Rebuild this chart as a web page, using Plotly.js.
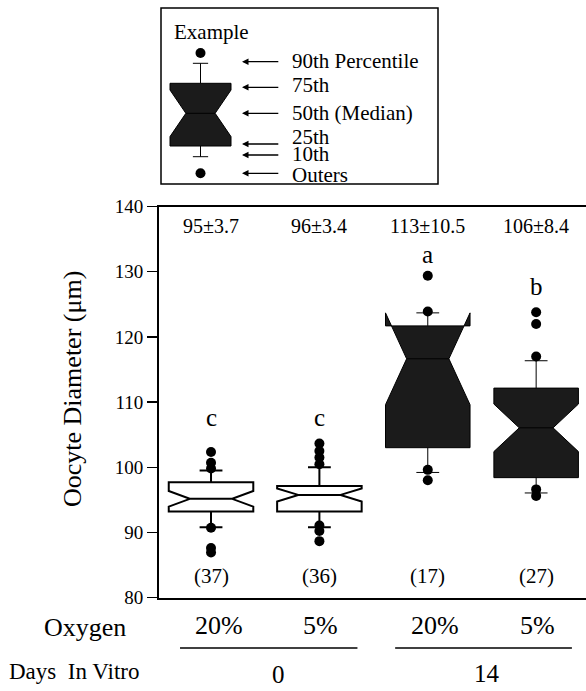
<!DOCTYPE html>
<html>
<head>
<meta charset="utf-8">
<script src="https://cdn.plot.ly/plotly-3.0.1.min.js"></script>
<style>html,body{margin:0;padding:0;background:#fff;}#chart{width:586px;height:691px;}</style>
</head>
<body>
<div id="chart"></div>
<script>
// ---- data ----
const groupX      = [0, 1, 2, 3];
const oxygen      = ['20%', '5%', '20%', '5%'];
const daysLabels  = ['0', '14'];
const p10         = [90.8, 90.8, 99.2, 96.05];
const q1          = [93.2, 93.2, 103.0, 98.4];
const median      = [95.15, 95.75, 116.65, 106.05];
const q3          = [97.7, 97.1, 121.7, 112.15];
const p90         = [99.5, 100.0, 123.4, 116.35];
const notchHalf   = [1.2, 1.0, 7.05, 3.65];
const outliers    = [
  [102.35, 100.7, 99.8, 90.7, 87.6, 86.9],
  [103.65, 102.5, 101.5, 100.45, 91.05, 90.2, 88.65],
  [129.4, 123.9, 99.6, 98.0],
  [123.8, 122.0, 117.0, 96.6, 95.6]
];
const meanSD      = ['95±3.7', '96±3.4', '113±10.5', '106±8.4'];
const nLabels     = ['(37)', '(36)', '(17)', '(27)'];
const sigLetters  = ['c', 'c', 'a', 'b'];
const sigY        = [107.7, 107.7, 132.7, 127.7];

// example (key) box, arbitrary units
const exStats     = {p10: 27.3, q1: 38, median: 70.7, q3: 100.7, p90: 120.7, notch: 23.3};
const exOutliers  = [131, 10.7];
const exLabels    = ['90th Percentile', '75th', '50th (Median)', '25th', '10th', 'Outers'];
const exArrowY    = [122.3, 96.7, 70.7, 40, 29, 10.7];
const exLabelY    = [123, 99, 71, 47.5, 30.5, 9];

// ---- styles ----
const FONT = 'Liberation Serif, Times New Roman, serif';
const fills = ['#ffffff', '#ffffff', '#1b1b1b', '#1b1b1b'];
const lineW = [2, 2, 1, 1];
const notchW = [0.25, 0.25, 0.25, 0.3];

const traces = [];
groupX.forEach((x, i) => {
  traces.push({
    type: 'box', x: [x], q1: [q1[i]], median: [median[i]], q3: [q3[i]],
    lowerfence: [p10[i]], upperfence: [p90[i]], notchspan: [notchHalf[i]],
    notched: true, notchwidth: notchW[i], boxpoints: false, width: 0.78, whiskerwidth: 0.27,
    fillcolor: fills[i], line: {color: '#000', width: lineW[i]},
    xaxis: 'x', yaxis: 'y', hoverinfo: 'skip', showlegend: false
  });
  traces.push({
    type: 'scatter', mode: 'markers', x: outliers[i].map(() => x), y: outliers[i],
    marker: {color: '#000', size: 10}, xaxis: 'x', yaxis: 'y', hoverinfo: 'skip', showlegend: false
  });
});
// example box
traces.push({
  type: 'box', x: [0], q1: [exStats.q1], median: [exStats.median], q3: [exStats.q3],
  lowerfence: [exStats.p10], upperfence: [exStats.p90], notchspan: [exStats.notch],
  notched: true, notchwidth: 0.26, boxpoints: false, width: 1, whiskerwidth: 0.25,
  fillcolor: '#1b1b1b', line: {color: '#000', width: 1},
  xaxis: 'x2', yaxis: 'y2', hoverinfo: 'skip', showlegend: false
});
traces.push({
  type: 'scatter', mode: 'markers', x: exOutliers.map(() => 0), y: exOutliers,
  marker: {color: '#000', size: 10}, xaxis: 'x2', yaxis: 'y2', hoverinfo: 'skip', showlegend: false
});

const ann = [];
const txt = (o) => Object.assign({showarrow: false, xanchor: 'center', yanchor: 'middle'}, o);
groupX.forEach((x, i) => {
  ann.push(txt({xref: 'x', yref: 'y', x: x, y: 137.0, text: meanSD[i],
            font: {family: FONT, size: 20, color: '#000'}}));
  ann.push(txt({xref: 'x', yref: 'y', x: x, y: 83.3, text: nLabels[i],
            font: {family: FONT, size: 21, color: '#000'}}));
  ann.push(txt({xref: 'x', yref: 'y', x: x, y: sigY[i], text: sigLetters[i],
            font: {family: FONT, size: 25, color: '#000'}}));
  ann.push(txt({xref: 'x', yref: 'paper', x: x + (i % 2 === 0 ? 0.07 : 0.01), y: 1 - 625/691, text: oxygen[i],
            font: {family: FONT, size: 26, color: '#000'}}));
});
ann.push(txt({xref: 'x', yref: 'paper', x: 0.62, y: 1 - 674/691, text: daysLabels[0],
          font: {family: FONT, size: 25, color: '#000'}}));
ann.push(txt({xref: 'x', yref: 'paper', x: 2.55, y: 1 - 673/691, text: daysLabels[1],
          font: {family: FONT, size: 25, color: '#000'}}));
ann.push(txt({xref: 'paper', yref: 'paper', x: 42/586, xanchor: 'left', y: 1 - 627/691, text: 'Oxygen',
          font: {family: FONT, size: 26, color: '#000'}}));
ann.push(txt({xref: 'paper', yref: 'paper', x: 7/586, xanchor: 'left', y: 1 - 671/691, text: 'Days  In Vitro',
          font: {family: FONT, size: 23, color: '#000'}}));
ann.push(txt({xref: 'paper', yref: 'paper', x: 72/586, y: 1 - 389/691, text: 'Oocyte Diameter (μm)',
          textangle: -90, font: {family: FONT, size: 26, color: '#000'}}));
// example key
ann.push(txt({xref: 'x2', yref: 'y2', x: -0.47, xanchor: 'left', y: 152, text: 'Example',
          font: {family: FONT, size: 21, color: '#000'}}));
exLabels.forEach((t, i) => {
  ann.push(txt({xref: 'x2', yref: 'y2', x: 1.47, xanchor: 'left', y: exLabelY[i], text: t,
            font: {family: FONT, size: 21, color: '#000'}}));
  ann.push({xref: 'x2', yref: 'y2', x: 0.68, y: exArrowY[i], axref: 'x2', ayref: 'y2', ax: 1.30, ay: exArrowY[i],
            text: '', showarrow: true, arrowhead: 2, arrowsize: 1, arrowwidth: 1.3, arrowcolor: '#000'});
});

const shapes = [
  {type: 'line', xref: 'x', yref: 'paper', x0: -0.286, x1: 1.351, y0: 1 - 648/691, y1: 1 - 648/691,
   line: {color: '#000', width: 1.5}},
  {type: 'line', xref: 'x', yref: 'paper', x0: 1.699, x1: 3.33, y0: 1 - 648/691, y1: 1 - 648/691,
   line: {color: '#000', width: 1.5}},
  {type: 'rect', xref: 'x2 domain', yref: 'y2 domain', x0: 0, x1: 1, y0: 0, y1: 1,
   line: {color: '#000', width: 1.5}, fillcolor: 'rgba(0,0,0,0)'}
];

const layout = {
  width: 586, height: 691,
  margin: {l: 0, r: 0, t: 0, b: 0, pad: 0},
  paper_bgcolor: '#fff', plot_bgcolor: 'rgba(0,0,0,0)',
  showlegend: false,
  font: {family: FONT, color: '#000'},
  xaxis: {domain: [159/586, 1], range: [-0.48, 3.46], showticklabels: false, ticks: '',
          showgrid: false, zeroline: false, showline: true, linecolor: '#000', linewidth: 2,
          mirror: true, anchor: 'y', automargin: false},
  yaxis: {domain: [(691-597.5)/691, (691-206.7)/691], range: [80, 140], tickvals: [80, 90, 100, 110, 120, 130, 140],
          ticks: 'outside', ticklen: 10, tickwidth: 1.3, tickcolor: '#000',
          tickfont: {family: FONT, size: 19, color: '#000'},
          showgrid: false, zeroline: false, showline: true, linecolor: '#000', linewidth: 2,
          anchor: 'x', automargin: false},
  xaxis2: {domain: [161/586, 438/586], range: [-0.6475, 3.893], visible: false, anchor: 'y2', fixedrange: true},
  yaxis2: {domain: [1 - 184/691, 1 - 8/691], range: [0, 176], visible: false, anchor: 'x2', fixedrange: true},
  annotations: ann,
  shapes: shapes
};

Plotly.newPlot('chart', traces, layout, {staticPlot: true, displayModeBar: false});
</script>
</body>
</html>
